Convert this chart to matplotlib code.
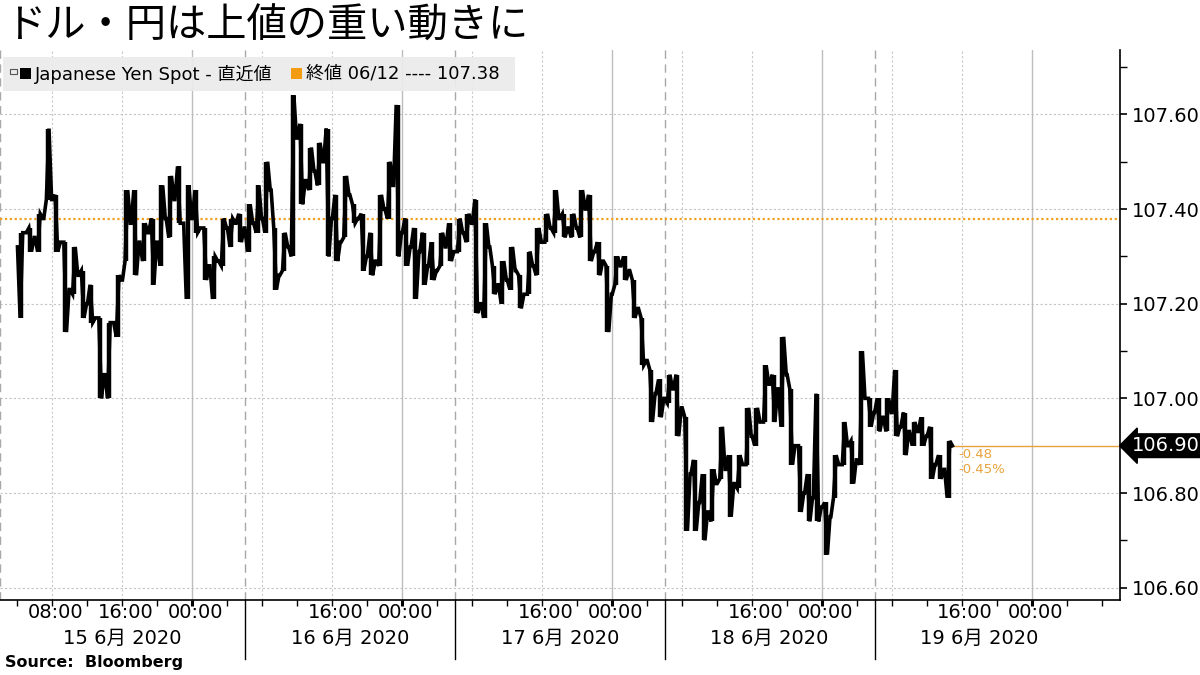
import numpy as np
import pandas as pd
import matplotlib
matplotlib.use('Agg')
import matplotlib.pyplot as plt
import matplotlib.dates as mdates
from matplotlib.patches import Rectangle
from matplotlib.transforms import blended_transform_factory

plt.rcParams['font.family'] = ['DejaVu Sans', 'Noto Sans CJK JP']

# データ (USD/JPY 1時間足の高値・安値・終値, 図から読み取り)
title = 'ドル・円は上値の重い動きに'
series_name = 'Japanese Yen Spot - 直近値'
ref_name = '終値 06/12 ---- 107.38'
prev_close = 107.38
first_open = 107.32
bar_times = pd.date_range('2020-06-15 04:00', periods=107, freq='h')

highs = [107.35, 107.36, 107.39, 107.57, 107.43, 107.33, 107.32, 107.27, 107.24, 107.17,
         107.16, 107.26, 107.44, 107.44, 107.37, 107.38, 107.45, 107.47, 107.49, 107.45,
         107.44, 107.36, 107.30, 107.38, 107.38, 107.39, 107.41, 107.45, 107.50, 107.36,
         107.35, 107.64, 107.58, 107.53, 107.54, 107.57, 107.43, 107.47, 107.41, 107.39,
         107.35, 107.43, 107.50, 107.62, 107.38, 107.36, 107.35, 107.33, 107.35, 107.37,
         107.38, 107.39, 107.42, 107.37, 107.28, 107.29, 107.32, 107.26, 107.31, 107.36,
         107.39, 107.44, 107.39, 107.39, 107.44, 107.43, 107.33, 107.28, 107.30, 107.30,
         107.25, 107.17, 107.06, 107.04, 107.05, 107.05, 106.96, 106.87, 106.84, 106.85,
         106.94, 106.88, 106.88, 106.98, 106.98, 107.07, 107.05, 107.13, 107.02, 106.90,
         106.84, 107.01, 106.78, 106.88, 106.95, 106.91, 107.10, 107.00, 107.00, 107.00,
         107.06, 106.97, 106.95, 106.96, 106.94, 106.88, 106.91]

lows = [107.17, 107.31, 107.31, 107.42, 107.31, 107.14, 107.22, 107.17, 107.16, 107.00,
        107.00, 107.13, 107.29, 107.26, 107.29, 107.24, 107.28, 107.34, 107.37, 107.21,
        107.35, 107.25, 107.21, 107.28, 107.32, 107.33, 107.31, 107.35, 107.35, 107.23,
        107.27, 107.30, 107.41, 107.44, 107.45, 107.30, 107.29, 107.34, 107.37, 107.27,
        107.26, 107.28, 107.38, 107.30, 107.28, 107.21, 107.24, 107.25, 107.28, 107.29,
        107.31, 107.33, 107.18, 107.17, 107.22, 107.20, 107.23, 107.19, 107.22, 107.26,
        107.33, 107.35, 107.34, 107.34, 107.34, 107.29, 107.26, 107.14, 107.24, 107.25,
        107.17, 107.07, 106.95, 106.96, 106.99, 106.92, 106.72, 106.72, 106.70, 106.74,
        106.83, 106.75, 106.81, 106.86, 106.90, 106.95, 106.95, 106.94, 106.86, 106.76,
        106.74, 106.74, 106.67, 106.79, 106.86, 106.82, 106.86, 106.94, 106.93, 106.93,
        106.92, 106.88, 106.90, 106.90, 106.83, 106.83, 106.79]

closes = [107.35, 107.34, 107.38, 107.42, 107.33, 107.23, 107.26, 107.20, 107.17, 107.05,
          107.16, 107.25, 107.37, 107.33, 107.35, 107.33, 107.38, 107.42, 107.37, 107.38,
          107.36, 107.28, 107.29, 107.36, 107.37, 107.36, 107.37, 107.38, 107.44, 107.26,
          107.32, 107.55, 107.46, 107.48, 107.50, 107.38, 107.33, 107.43, 107.38, 107.30,
          107.29, 107.40, 107.45, 107.35, 107.32, 107.31, 107.28, 107.27, 107.32, 107.31,
          107.35, 107.37, 107.20, 107.32, 107.24, 107.25, 107.27, 107.22, 107.28, 107.33,
          107.36, 107.38, 107.36, 107.36, 107.40, 107.31, 107.29, 107.22, 107.28, 107.27,
          107.19, 107.08, 107.01, 107.00, 107.02, 106.98, 106.84, 106.78, 106.76, 106.82,
          106.85, 106.82, 106.86, 106.92, 106.95, 107.03, 107.02, 107.05, 106.90, 106.80,
          106.79, 106.77, 106.75, 106.86, 106.90, 106.87, 107.00, 106.97, 106.96, 106.97,
          106.94, 106.93, 106.93, 106.92, 106.86, 106.85, 106.90]

yticks = [106.6, 106.8, 107.0, 107.2, 107.4, 107.6]
day_labels = ['15 6月 2020', '16 6月 2020', '17 6月 2020', '18 6月 2020', '19 6月 2020']

# 各足を 始値→高値/安値→終値 のジグザグ線にする
t0 = mdates.date2num(bar_times)
hour = 1 / 24
xs, ys = [], []
o = first_open
for t, h, l, c in zip(t0, highs, lows, closes):
    mid = [l, h] if c >= o else [h, l]
    xs += [t, t + 0.3 * hour, t + 0.6 * hour, t + 0.9 * hour]
    ys += [o] + mid + [c]
    o = c

W, H = 1200, 675
fig = plt.figure(figsize=(12, 6.75), dpi=100)
ax = fig.add_axes([0, 1 - 600 / H, 1119.5 / W, 550 / H])

x_left = mdates.date2num(pd.Timestamp('2020-06-15 02:00'))
x_right = mdates.date2num(pd.Timestamp('2020-06-20 10:00'))
ax.set_xlim(x_left, x_right)
ax.set_ylim(106.574, 107.736)

# グリッド
for y in yticks:
    ax.axhline(y, color='#c4c4c4', lw=0.8, ls=(0, (2, 2)), zorder=0)
days = pd.date_range('2020-06-15', '2020-06-20', freq='D')
for d in days:
    for hh in (8, 16):
        t = d + pd.Timedelta(hours=hh)
        if t <= pd.Timestamp('2020-06-20 00:00'):
            ax.axvline(mdates.date2num(t), color='#c8c8c8', lw=0.8, ls=(0, (2, 2)), zorder=0)
    if d > days[0]:
        ax.axvline(mdates.date2num(d), color='#bdbdbd', lw=1.0, zorder=0)
seps = [mdates.date2num(d + pd.Timedelta(hours=6)) for d in days[1:5]]
for s in [x_left + 0.002] + seps:
    ax.axvline(s, color='#a8a8a8', lw=1.0, ls=(0, (6, 4)), zorder=0)

# 前日終値ライン
ax.axhline(prev_close, color='#f0a020', lw=1.6, ls=(0, (1, 1.2)), zorder=1)

# 価格
ax.vlines(t0 + 0.45 * hour, lows, highs, color='black', lw=3.2, zorder=3)
ax.plot(xs, ys, color='black', lw=2.6, solid_joinstyle='miter', zorder=3)

# 直近値ライン
last = closes[-1]
ax.plot([xs[-1], x_right], [last, last], color='#e8a33c', lw=1.0, zorder=2)
chg = last - prev_close
ax.annotate(f'{chg:.2f}\n{chg / prev_close * 100:.2f}%', xy=(xs[-1], last),
            xytext=(4, -2), textcoords='offset points', color='#e8a33c',
            fontsize=9.5, va='top', ha='left', linespacing=1.15)
ax.annotate(f'{last:.2f}', xy=(1.0, last), xycoords=('axes fraction', 'data'),
            xytext=(9, 0), textcoords='offset points', color='white', fontsize=14,
            va='center', ha='left',
            bbox=dict(boxstyle='larrow,pad=0.12', fc='black', ec='black'),
            annotation_clip=False)

# 軸
for sp in ('top', 'left'):
    ax.spines[sp].set_visible(False)
ax.spines['right'].set_linewidth(1.2)
ax.spines['bottom'].set_linewidth(1.2)
ax.yaxis.tick_right()
ax.set_yticks(yticks)
ax.set_yticklabels([f'{v:.2f}' for v in yticks])
ax.set_yticks([v + 0.1 for v in yticks], minor=True)
ax.tick_params(axis='y', which='major', direction='out', length=5, width=1.2, pad=4, labelsize=14)
ax.tick_params(axis='y', which='minor', direction='out', length=5, width=1.0)

ax.set_xticks([mdates.date2num(d) for d in days[1:]])
ax.set_xticks(mdates.date2num(pd.date_range('2020-06-15 04:00', '2020-06-20 08:00', freq='4h')), minor=True)
ax.set_xticklabels([])
ax.tick_params(axis='x', which='major', direction='out', length=4, width=2.2)
ax.tick_params(axis='x', which='minor', direction='out', length=4, width=1.0)

tr = blended_transform_factory(ax.transData, ax.transAxes)
for s in seps:
    ax.plot([s, s], [0, -59 / 550], color='black', lw=1.0, transform=tr, clip_on=False)

time_ticks = [pd.Timestamp('2020-06-15 08:00')]
for d in days[:5]:
    time_ticks += [d + pd.Timedelta(hours=16), d + pd.Timedelta(hours=24)]
for t in time_ticks:
    ax.text(mdates.date2num(t) + 0.12 * hour * 3, -12 / 550, t.strftime('%H:%M'),
            transform=tr, ha='center', va='center', fontsize=14)
bounds = [x_left] + seps + [seps[-1] + 1.0]
for i, lab in enumerate(day_labels):
    ax.text((bounds[i] + bounds[i + 1]) / 2, -38 / 550, lab, transform=tr,
            ha='center', va='center', fontsize=14)

# 凡例
fig.patches.append(Rectangle((3 / W, 1 - 91 / H), 512 / W, 34 / H, transform=fig.transFigure,
                             fc='#ebebeb', ec='none', alpha=0.92, zorder=5))
fig.patches.append(Rectangle((10 / W, 1 - 74 / H), 7 / W, 5 / H, transform=fig.transFigure,
                             fc='none', ec='#555555', lw=0.8, zorder=6))
fig.patches.append(Rectangle((20 / W, 1 - 79 / H), 11 / W, 11 / H, transform=fig.transFigure,
                             fc='black', ec='none', zorder=6))
fig.patches.append(Rectangle((291 / W, 1 - 79 / H), 11 / W, 11 / H, transform=fig.transFigure,
                             fc='#f39c12', ec='none', zorder=6))
fig.text(35 / W, 1 - 74 / H, series_name, fontsize=13, va='center', ha='left', zorder=7)
fig.text(306 / W, 1 - 74 / H, ref_name, fontsize=13, va='center', ha='left', zorder=7)

fig.text(5 / W, 1 - 26 / H, title, fontsize=29, va='center', ha='left',
         family=['Noto Sans CJK JP', 'DejaVu Sans'])
fig.text(5 / W, 1 - 662 / H, 'Source:  Bloomberg', fontsize=11.5, fontweight='bold',
         va='center', ha='left')

fig.savefig('out.png', dpi=100)
